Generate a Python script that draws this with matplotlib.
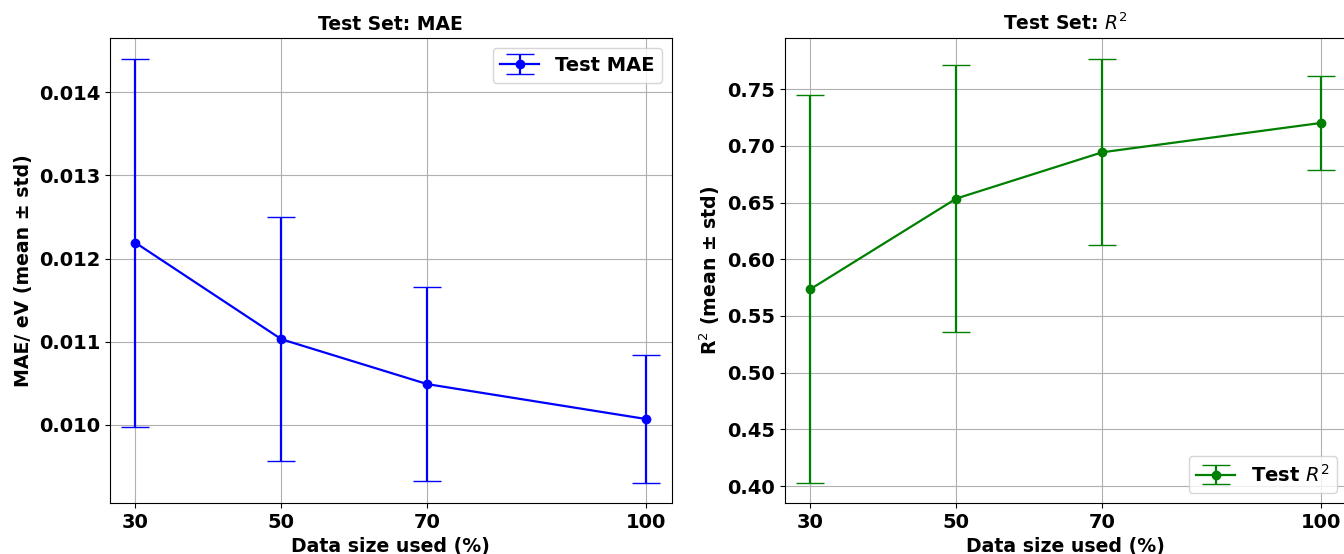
import numpy as np
import matplotlib
matplotlib.use("Agg")
import matplotlib.pyplot as plt

# data size used (%)
sizes = [30, 50, 70, 100]

# test MAE (eV), mean and std over runs
mae_mean = [0.01219, 0.01103, 0.01049, 0.01007]
mae_std = [0.00221, 0.00147, 0.00117, 0.00077]

# test R^2, mean and std over runs
r2_mean = [0.5737, 0.6536, 0.6944, 0.7203]
r2_std = [0.1711, 0.1177, 0.0821, 0.0411]

plt.rcParams['font.weight'] = 'bold'
plt.rcParams['axes.labelweight'] = 'bold'
plt.rcParams['axes.titleweight'] = 'bold'
# keep math symbols in a regular (not bold) weight
plt.rcParams['mathtext.fontset'] = 'custom'
plt.rcParams['mathtext.rm'] = 'DejaVu Sans:normal'
plt.rcParams['mathtext.it'] = 'DejaVu Sans:italic:normal'
plt.rcParams['mathtext.bf'] = 'DejaVu Sans:bold'

fig = plt.figure(figsize=(13.44, 5.54), dpi=100)
ax1 = fig.add_axes([0.0818, 0.092, 0.418, 0.839])
ax2 = fig.add_axes([0.584, 0.092, 0.418, 0.839])

# MAE panel
ax1.errorbar(sizes, mae_mean, yerr=mae_std, fmt='-o', color='blue',
             capsize=10, linewidth=1.6, markersize=6, label='Test MAE')
ax1.set_title('Test Set: MAE', fontsize=13.5)
ax1.set_xlabel('Data size used (%)', fontsize=13.6)
ax1.set_ylabel('MAE/ eV (mean ± std)', fontsize=13.6)
ax1.set_xticks(sizes)
ax1.set_ylim(0.00906, 0.01465)
ax1.grid(True)
ax1.legend(loc='upper right', fontsize=14)
ax1.tick_params(labelsize=14)

# R^2 panel
ax2.errorbar(sizes, r2_mean, yerr=r2_std, fmt='-o', color='green',
             capsize=10, linewidth=1.6, markersize=6, label='Test $R^2$')
ax2.set_title('Test Set: $R^2$', fontsize=13.5)
ax2.set_xlabel('Data size used (%)', fontsize=13.6)
ax2.set_ylabel('R$^2$ (mean ± std)', fontsize=13.6)
ax2.set_xticks(sizes)
ax2.set_ylim(0.385, 0.795)
ax2.grid(True)
ax2.legend(loc='lower right', fontsize=14)
ax2.tick_params(labelsize=14)

for ax in (ax1, ax2):
    ax.set_xlim(26.5, 103.5)

fig.savefig('out.png', dpi=100)
